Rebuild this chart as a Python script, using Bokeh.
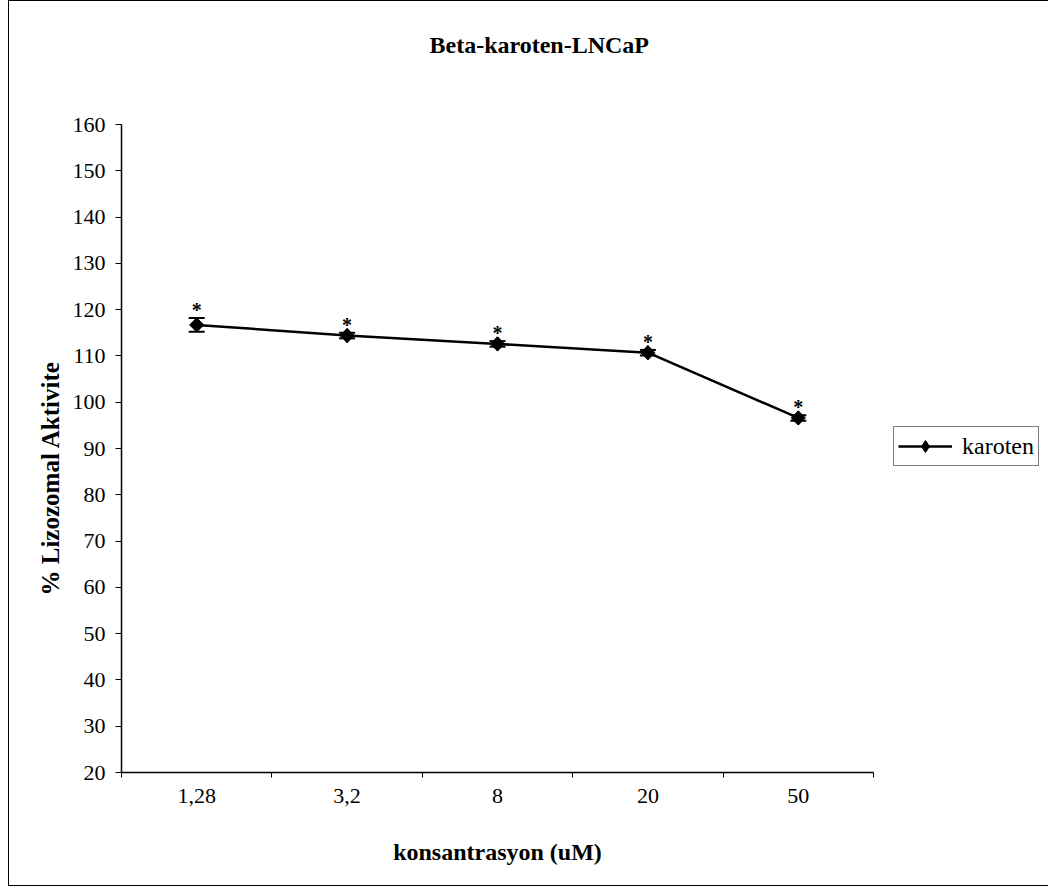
from bokeh.plotting import figure
from bokeh.models import (Range1d, FixedTicker, Whisker, TeeHead, ColumnDataSource,
                          Legend, LegendItem, Title)
from bokeh.core.properties import value
from bokeh.embed import file_html
from bokeh.resources import INLINE

# Data: lysosomal activity (%) of LNCaP cells against beta-carotene concentration
categories = ["1,28", "3,2", "8", "20", "50"]
activity = [116.7, 114.4, 112.6, 110.7, 96.6]
errors = [1.5, 0.6, 0.6, 0.6, 0.6]
significance = ["*", "*", "*", "*", "*"]
y_ticks = [20, 30, 40, 50, 60, 70, 80, 90, 100, 110, 120, 130, 140, 150, 160]

FONT = "Liberation Serif"

xs = [i + 0.5 for i in range(len(categories))]
src = ColumnDataSource(dict(
    x=xs,
    y=activity,
    upper=[v + e for v, e in zip(activity, errors)],
    lower=[v - e for v, e in zip(activity, errors)],
    star=significance,
))

p = figure(
    frame_width=752, frame_height=648,
    output_backend="svg", toolbar_location=None,
    x_range=Range1d(0, len(categories)), y_range=Range1d(y_ticks[0], y_ticks[-1]),
    min_border_left=112, min_border_right=174, min_border_top=123, min_border_bottom=113,
)
p.styles = {"border": "1px solid #000", "margin-left": "8px"}
p.outline_line_color = None
p.grid.visible = False
p.background_fill_color = "white"
p.border_fill_color = "white"

# Chart title
p.title.text = "Beta-karoten-LNCaP"
p.title.text_font = FONT
p.title.text_font_size = "24px"
p.title.text_font_style = "bold"
p.title.text_color = "black"
p.title.align = "left"
p.title.offset = 308
p.title.vertical_align = "top"
p.title.standoff = 0

# Blank spacer between the title and the plot area
p.add_layout(Title(text=" ", text_font_size="1px", standoff=62), "above")

# X axis: labels at category centres, tick marks at category boundaries
xa = p.xaxis[0]
xa.ticker = FixedTicker(ticks=xs, minor_ticks=list(range(len(categories) + 1)))
xa.major_label_overrides = {x: c for x, c in zip(xs, categories)}
xa.major_tick_line_color = None
xa.minor_tick_out = 5
xa.minor_tick_in = 0
xa.minor_tick_line_color = "black"
xa.axis_line_color = "black"
xa.axis_line_width = 1.5
xa.major_label_standoff = 10
xa.major_label_text_font = FONT
xa.major_label_text_font_size = "22px"
xa.major_label_text_color = "black"
xa.axis_label = "konsantrasyon (uM)"
xa.axis_label_text_font = FONT
xa.axis_label_text_font_size = "24px"
xa.axis_label_text_font_style = "bold"
xa.axis_label_text_color = "black"
xa.axis_label_standoff = 33

# Y axis
ya = p.yaxis[0]
ya.ticker = FixedTicker(ticks=y_ticks)
ya.minor_tick_line_color = None
ya.major_tick_out = 6
ya.major_tick_in = 0
ya.major_tick_line_color = "black"
ya.axis_line_color = "black"
ya.axis_line_width = 1.5
ya.major_label_standoff = 10
ya.major_label_text_font = FONT
ya.major_label_text_font_size = "22px"
ya.major_label_text_color = "black"

# Y axis title, placed as a side title so it can sit below centre
p.add_layout(Title(
    text="% Lizozomal Aktivite", align="left", offset=177, standoff=12,
    text_font=FONT, text_font_size="25px", text_font_style="bold",
    text_color="black",
), "left")

# Error bars
p.add_layout(Whisker(
    source=src, base="x", upper="upper", lower="lower",
    line_color="black", line_width=2,
    upper_head=TeeHead(size=16, line_color="black", line_width=2),
    lower_head=TeeHead(size=16, line_color="black", line_width=2),
))

# Series: line plus diamond markers (square turned 45 degrees)
ln = p.line("x", "y", source=src, line_color="black", line_width=2.5)
# narrow diamond, sits inside the turned square; it provides the legend swatch
key = p.scatter("x", "y", source=src, marker="diamond", size=14,
                fill_color="black", line_color="black")
p.scatter("x", "y", source=src, marker="square", angle=0.785398,
          size=10, fill_color="black", line_color="black")

# Significance markers above each point
p.text("x", "upper", text="star", source=src, text_font=value(FONT),
       text_font_size="20px", text_font_style="bold", text_align="center",
       text_baseline="middle", y_offset=-8, text_color="black")

legend = Legend(
    items=[LegendItem(label="karoten", renderers=[ln, key])],
    location=(20, 306),
    border_line_color="black", border_line_width=1,
    label_text_font=FONT, label_text_font_size="24px", label_text_color="black",
    glyph_width=54, glyph_height=30, label_standoff=10,
    padding=4, margin=0, background_fill_alpha=1,
)
p.add_layout(legend, "right")

open("out.html", "w").write(file_html(p, INLINE))
